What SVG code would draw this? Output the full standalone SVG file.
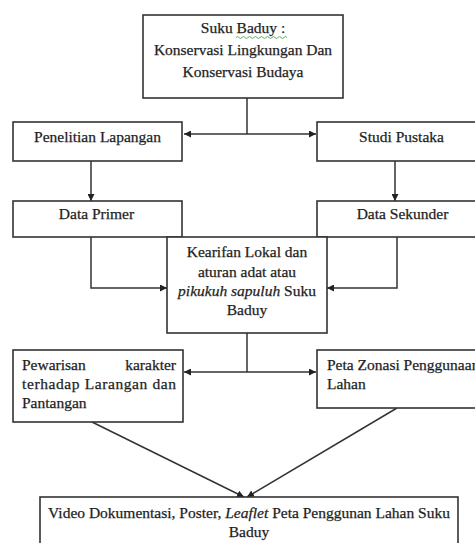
<svg xmlns="http://www.w3.org/2000/svg" width="475" height="543" viewBox="0 0 475 543">
<defs>
<marker id="ah" viewBox="0 0 10 10" refX="10" refY="5" markerWidth="7" markerHeight="7" markerUnits="userSpaceOnUse" orient="auto">
<path d="M0,0 L10,5 L0,10 z" fill="#222"/>
</marker>
</defs>
<style>
.box{fill:#fff;stroke:#333;stroke-width:1.6}
.t{font-family:"Liberation Serif","Times New Roman",serif;font-size:15.5px;fill:#1e1e1e;stroke:#1e1e1e;stroke-width:0.25}
.c{text-anchor:middle}
.ln{fill:none;stroke:#333;stroke-width:1.5}
</style>
<rect width="475" height="543" fill="#fff"/>
<g id="connectors">
<path class="ln" d="M247,98 V134"/>
<path class="ln" d="M247,134 H184" marker-end="url(#ah)"/>
<path class="ln" d="M247,134 H316" marker-end="url(#ah)"/>
<path class="ln" d="M91,161 V201" marker-end="url(#ah)"/>
<path class="ln" d="M395,161 V201" marker-end="url(#ah)"/>
<path class="ln" d="M91,237 V288 H167" marker-end="url(#ah)"/>
<path class="ln" d="M397,237 V288 H327" marker-end="url(#ah)"/>
<path class="ln" d="M247,333 V372"/>
<path class="ln" d="M247,372 H184" marker-end="url(#ah)"/>
<path class="ln" d="M247,372 H316" marker-end="url(#ah)"/>
<path class="ln" d="M92,422 L244,497" marker-end="url(#ah)"/>
<path class="ln" d="M397,408 L247,497" marker-end="url(#ah)"/>
</g>
<g id="n-suku">
<rect class="box" x="143" y="15" width="200" height="83"/>
<text class="t c" x="243" y="33">Suku Baduy :</text>
<path d="M236,37.5 q1.5,-2 3,0 t3,0 t3,0 t3,0 t3,0 t3,0 t3,0 t3,0 t3,0 t3,0 t3,0 t3,0 t3,0 t3,0 t3,0 t3,0 t3,0" fill="none" stroke="#3a9a3a" stroke-width="0.8"/>
<text class="t c" x="243" y="55">Konservasi Lingkungan Dan</text>
<text class="t c" x="243" y="77">Konservasi Budaya</text>
</g>
<g id="n-penelitian">
<rect class="box" x="13" y="122" width="169" height="39"/>
<text class="t c" x="97.5" y="142">Penelitian Lapangan</text>
</g>
<g id="n-studi">
<rect class="box" x="317" y="122" width="170" height="39"/>
<text class="t c" x="401.5" y="142">Studi Pustaka</text>
</g>
<g id="n-primer">
<rect class="box" x="13" y="201" width="169" height="36"/>
<text class="t c" x="96.5" y="219">Data Primer</text>
</g>
<g id="n-sekunder">
<rect class="box" x="317" y="201" width="170" height="36"/>
<text class="t c" x="402.5" y="219">Data Sekunder</text>
</g>
<g id="n-kearifan">
<rect class="box" x="167" y="237" width="160" height="96"/>
<text class="t c" x="247" y="257">Kearifan Lokal dan</text>
<text class="t c" x="247" y="277">aturan adat atau</text>
<text class="t c" x="247" y="296"><tspan font-style="italic">pikukuh sapuluh</tspan> Suku</text>
<text class="t c" x="247" y="315">Baduy</text>
</g>
<g id="n-pewarisan">
<rect class="box" x="13" y="350" width="170" height="72"/>
<text class="t" x="22" y="370">Pewarisan</text>
<text class="t" x="176" y="370" text-anchor="end">karakter</text>
<text class="t" x="22" y="389" textLength="154" lengthAdjust="spacing">terhadap Larangan dan</text>
<text class="t" x="22" y="408">Pantangan</text>
</g>
<g id="n-peta">
<rect class="box" x="317" y="350" width="170" height="58"/>
<text class="t" x="327" y="370">Peta Zonasi Penggunaan</text>
<text class="t" x="327" y="389">Lahan</text>
</g>
<g id="n-video">
<rect class="box" x="40" y="497" width="418" height="60"/>
<text class="t c" x="249" y="518">Video Dokumentasi, Poster, <tspan font-style="italic">Leaflet</tspan> Peta Penggunan Lahan Suku</text>
<text class="t c" x="249" y="537">Baduy</text>
</g>
</svg>
